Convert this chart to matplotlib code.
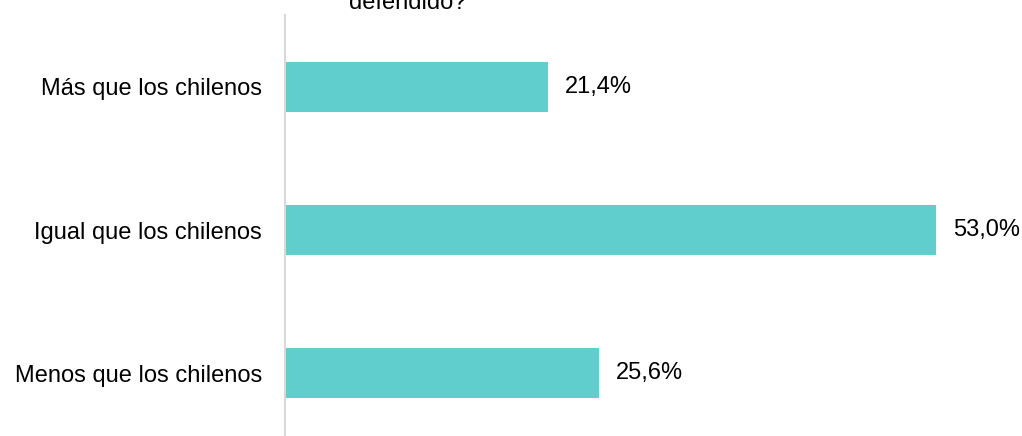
import matplotlib.pyplot as plt

categorias = ['Más que los chilenos', 'Igual que los chilenos', 'Menos que los chilenos']
valores = [21.4, 53.0, 25.6]
etiquetas = ['21,4%', '53,0%', '25,6%']

plt.rcParams['font.family'] = ['Liberation Sans', 'DejaVu Sans']

fig = plt.figure(figsize=(10.22, 4.36), dpi=100)
ax = fig.add_axes([285 / 1022, 0, 725 / 1022, 421 / 436])

pos = list(range(len(categorias)))
ax.barh(pos, valores, height=0.35, color='#60cecc')
for p, v, t in zip(pos, valores, etiquetas):
    ax.text(v + 1.38, p, t, va='center', ha='left', fontsize=17, color='#000000')

ax.set_xlim(0, 725 / 12.28)
ax.set_ylim(2.44, -0.503)
ax.set_yticks(pos)
ax.set_yticklabels(categorias, fontsize=17)
ax.tick_params(axis='y', length=0, pad=16.5)
ax.set_xticks([])
for s in ['top', 'right', 'bottom']:
    ax.spines[s].set_visible(False)
ax.spines['left'].set_color('#d9d9d9')
ax.spines['left'].set_linewidth(1.5)

# última línea del título, recortada por el borde superior
fig.text(408 / 1022, 1.0 - 9 / 436, 'defendido?', ha='center', va='baseline', fontsize=17)

fig.savefig('out.png', dpi=100)
